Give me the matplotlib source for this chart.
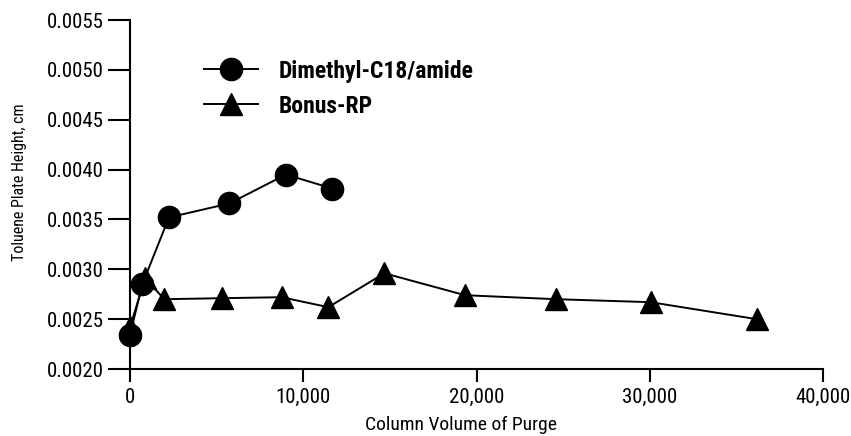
import matplotlib.pyplot as plt
import matplotlib as mpl
from matplotlib.ticker import FuncFormatter

mpl.rcParams.update({
    "font.family": ["Roboto Condensed", "DejaVu Sans"],
    "axes.linewidth": 1.5,
})

# Dimethyl-C18/amide
dm_x = [0, 710, 2250, 5730, 9000, 11680]
dm_y = [0.00234, 0.00285, 0.00352, 0.00366, 0.00395, 0.00381]

# Bonus-RP
br_x = [0, 870, 1980, 5290, 8750, 11450, 14680, 19340, 24590, 30050, 36170]
br_y = [0.00242, 0.00291, 0.00270, 0.00271, 0.00272, 0.00262, 0.00296,
        0.00274, 0.00270, 0.00267, 0.00250]

y_ticks = [0.0020, 0.0025, 0.0030, 0.0035, 0.0040, 0.0045, 0.0050, 0.0055]
x_ticks = [0, 10000, 20000, 30000, 40000]

fig = plt.figure(figsize=(8.51, 4.36), dpi=100)
ax = fig.add_axes([130 / 851, 1 - 369 / 436, 693 / 851, 349 / 436])

ax.plot(br_x, br_y, color="black", lw=1.4, marker="^", ms=16,
        clip_on=False, label="Bonus-RP", zorder=3)
ax.plot(dm_x, dm_y, color="black", lw=1.4, marker="o", ms=16,
        clip_on=False, label="Dimethyl-C18/amide", zorder=4)

ax.set_xlim(0, 40000)
ax.set_ylim(0.0020, 0.0055)
ax.set_xticks(x_ticks)
ax.set_yticks(y_ticks)
ax.xaxis.set_major_formatter(FuncFormatter(lambda v, p: f"{int(v):,}"))
ax.yaxis.set_major_formatter(FuncFormatter(lambda v, p: f"{v:.4f}"))

for s in ["top", "right"]:
    ax.spines[s].set_visible(False)
ax.tick_params(axis="y", direction="out", length=16, width=1.5, pad=3, labelsize=15)
ax.tick_params(axis="x", direction="out", length=9, width=1.5, pad=4.5, labelsize=15)

ax.set_xlabel("Column Volume of Purge", fontsize=14)
ax.set_ylabel("Toluene Plate Height, cm", fontsize=11.5)
ax.xaxis.set_label_coords(0.478, -0.135)
ax.yaxis.set_label_coords(-0.148, 0.536)

h, l = ax.get_legend_handles_labels()
ax.legend(h[::-1], l[::-1], loc="upper left", bbox_to_anchor=(0.076, 0.947),
          frameon=False, prop={"weight": "bold", "size": 17},
          handlelength=2.3, handletextpad=0.85, labelspacing=0.5,
          markerscale=1.0)

fig.savefig("out.png", dpi=100)
